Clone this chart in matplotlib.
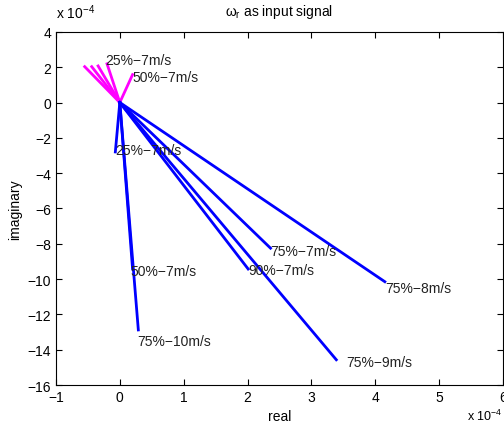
"""Root direction plot: omega_r as input signal."""
import matplotlib
matplotlib.use("Agg")
import matplotlib.pyplot as plt

# endpoints of the lines from the origin (units of 1e-4)
magenta_re = [-0.55, -0.44, -0.34, -0.20, 0.20]
magenta_im = [2.03, 2.03, 2.07, 2.19, 1.58]

blue_names = ["25%-7m/s", "50%-7m/s", "75%-10m/s", "75%-7m/s",
              "90%-7m/s", "75%-8m/s", "75%-9m/s"]
blue_re = [-0.07, 0.20, 0.29, 2.36, 2.01, 4.15, 3.39]
blue_im = [-2.80, -9.43, -12.88, -8.25, -9.43, -10.15, -14.57]

# text labels (position of each label)
label_text = ["25%\u22127m/s", "50%\u22127m/s", "25%\u22127m/s", "50%\u22127m/s",
              "75%\u221210m/s", "75%\u22127m/s", "90%\u22127m/s",
              "75%\u22128m/s", "75%\u22129m/s"]
label_re = [-0.23, 0.20, -0.07, 0.16, 0.27, 2.35, 2.01, 4.15, 3.55]
label_im = [2.43, 1.47, -2.67, -9.52, -13.5, -8.43, -9.48, -10.5, -14.68]

xticks = [-1, 0, 1, 2, 3, 4, 5, 6]
yticks = [-16, -14, -12, -10, -8, -6, -4, -2, 0, 2, 4]

plt.rcParams['font.family'] = ['Liberation Sans', 'DejaVu Sans']
plt.rcParams['mathtext.fontset'] = 'custom'
plt.rcParams['mathtext.rm'] = 'Liberation Sans'
plt.rcParams['mathtext.it'] = 'Liberation Sans'

fig = plt.figure(figsize=(5.04, 4.27), dpi=100)
ax = fig.add_axes([0.111, 0.096, 0.887, 0.827])

for re, im in zip(magenta_re, magenta_im):
    ax.plot([0, re], [0, im], color=(1, 0, 1), lw=2)
for re, im in zip(blue_re, blue_im):
    ax.plot([0, re], [0, im], color=(0, 0, 1), lw=2)

for t, re, im in zip(label_text, label_re, label_im):
    ax.text(re, im, t, fontsize=10, ha='left', va='center', color='#222222')

ax.set_xlim(-1, 6)
ax.set_ylim(-16, 4)
ax.set_xticks(xticks)
ax.set_yticks(yticks)
ax.tick_params(direction='in', top=True, right=True, labelsize=10, length=4)
ax.set_xlabel("real", fontsize=10)
ax.set_ylabel("imaginary", fontsize=10)
ax.set_title(r"$\omega_r$ as input signal", fontsize=10, pad=12)

# exponent labels like MATLAB
fig.text(0.111, 0.948, r"x 10$^{-4}$", fontsize=10, ha='left', va='bottom')
fig.text(0.927, 0.008, r"x 10$^{-4}$", fontsize=9, ha='left', va='bottom')

fig.savefig("out.png", dpi=100)
